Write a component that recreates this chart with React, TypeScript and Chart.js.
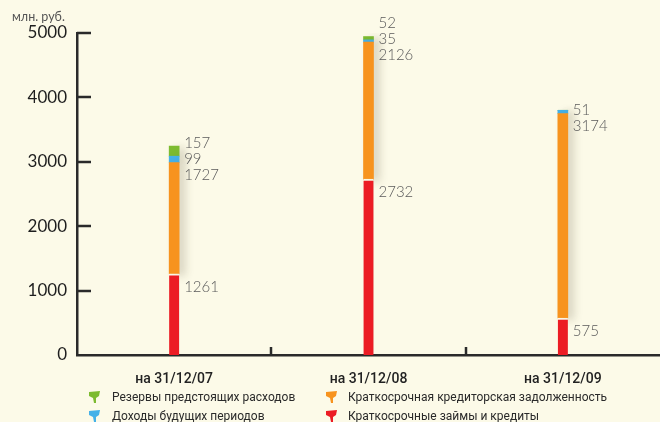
import React, { useEffect, useRef } from "react";
import { Chart, registerables } from "chart.js";

Chart.register(...registerables);

const categories = ["на 31/12/07", "на 31/12/08", "на 31/12/09"];
const loansCredits = [1261, 2732, 575];
const shortTermPayables = [1727, 2126, 3174];
const deferredIncome = [99, 35, 51];
const reservesExpenses = [157, 52, 0];
const yTicks = [0, 1000, 2000, 3000, 4000, 5000];
const yUnit = "млн. руб.";

const BG = "#FCFAE8";
const AXIS = "#2a2a2a";

const legendLayout = [
  { ds: 3, col: 0, row: 0 },
  { ds: 2, col: 0, row: 1 },
  { ds: 1, col: 1, row: 0 },
  { ds: 0, col: 1, row: 1 },
];

function drawMarker(ctx: CanvasRenderingContext2D, x: number, y: number, color: string) {
  ctx.save();
  ctx.fillStyle = color;
  ctx.beginPath();
  ctx.moveTo(x - 6, y - 5);
  ctx.lineTo(x + 5, y - 6);
  ctx.lineTo(x + 4, y - 1);
  ctx.lineTo(x + 1, y + 1);
  ctx.lineTo(x + 1, y + 6);
  ctx.lineTo(x - 1, y + 6);
  ctx.lineTo(x - 2, y + 1);
  ctx.lineTo(x - 6, y - 1);
  ctx.closePath();
  ctx.fill();
  ctx.restore();
}

const decorPlugin = {
  id: "decor",
  beforeDraw(chart: any) {
    const { ctx, width, height } = chart;
    ctx.save();
    ctx.fillStyle = BG;
    ctx.fillRect(0, 0, width, height);
    ctx.restore();
  },
  beforeDatasetsDraw(chart: any) {
    const ctx = chart.ctx;
    ctx.save();
    ctx.shadowColor = "rgba(60,50,20,0.18)";
    ctx.shadowBlur = 8;
    ctx.shadowOffsetX = 6;
    ctx.shadowOffsetY = 2;
  },
  afterDatasetsDraw(chart: any) {
    chart.ctx.restore();
  },
  afterDraw(chart: any) {
    const { ctx, chartArea, scales } = chart;
    const ys = scales.y;
    const xs = scales.x;
    ctx.save();
    // inner y ticks
    ctx.strokeStyle = AXIS;
    ctx.lineWidth = 2.5;
    for (const v of yTicks) {
      if (v === 0) continue;
      const y = Math.round(ys.getPixelForValue(v));
      ctx.beginPath();
      ctx.moveTo(chartArea.left, y);
      ctx.lineTo(chartArea.left + 14, y);
      ctx.stroke();
    }
    // x ticks at category boundaries
    for (let i = 0; i < categories.length - 1; i++) {
      const x = Math.round((xs.getPixelForValue(i) + xs.getPixelForValue(i + 1)) / 2);
      ctx.beginPath();
      ctx.moveTo(x, chartArea.bottom);
      ctx.lineTo(x, chartArea.bottom - 8);
      ctx.stroke();
    }
    // value labels
    ctx.fillStyle = "#5a5a5a";
    ctx.font = "300 15px Lato, 'Open Sans', sans-serif";
    ctx.textBaseline = "middle";
    ctx.textAlign = "left";
    for (let c = 0; c < categories.length; c++) {
      let lastY: number | null = null;
      for (let d = 0; d < chart.data.datasets.length; d++) {
        const v = chart.data.datasets[d].data[c] as number;
        if (!v) continue;
        const el = chart.getDatasetMeta(d).data[c] as any;
        const top = el.y;
        const h = el.base - el.y;
        let ly: number;
        if (h > 20 || lastY === null) ly = top + 13;
        else ly = lastY - 16;
        lastY = ly;
        ctx.fillText(String(v), el.x + 10, ly);
      }
    }
    // unit title
    ctx.fillStyle = "#555";
    ctx.font = "12.5px Lato, 'Open Sans', sans-serif";
    ctx.fillText(yUnit, 12, 17);
    // legend
    ctx.font = "12px Roboto, sans-serif";
    const colX = [95, 332];
    const textX = [112, 348];
    const rowY = [397, 416];
    for (const item of legendLayout) {
      const ds = chart.data.datasets[item.ds];
      drawMarker(ctx, colX[item.col], rowY[item.row], ds.backgroundColor as string);
      ctx.fillStyle = "#2a2a2a";
      ctx.fillText(ds.label, textX[item.col], rowY[item.row] + 1);
    }
    ctx.restore();
  },
};

export default function App() {
  const ref = useRef<HTMLCanvasElement | null>(null);
  useEffect(() => {
    document.body.style.margin = "0";
    document.body.style.background = BG;
    if (!ref.current) return;
    const chart = new Chart(ref.current, {
      type: "bar",
      data: {
        labels: categories,
        datasets: [
          {
            label: "Краткосрочные займы и кредиты",
            data: loansCredits,
            backgroundColor: "#EC1C24",
            borderColor: BG,
            borderWidth: { top: 2, bottom: 0, left: 0, right: 0 },
            borderSkipped: false,
          },
          {
            label: "Краткосрочная кредиторская задолженность",
            data: shortTermPayables,
            backgroundColor: "#F7931E",
          },
          {
            label: "Доходы будущих периодов",
            data: deferredIncome,
            backgroundColor: "#45B1E8",
          },
          {
            label: "Резервы предстоящих расходов",
            data: reservesExpenses,
            backgroundColor: "#7DBB30",
          },
        ],
      },
      options: {
        responsive: true,
        maintainAspectRatio: false,
        animation: false,
        layout: { padding: { top: 33, left: 0, right: 0, bottom: 0 } },
        datasets: { bar: { barThickness: 10 } },
        plugins: {
          legend: { display: false },
          tooltip: { enabled: false },
        },
        scales: {
          x: {
            stacked: true,
            grid: { display: false },
            border: { display: true, color: AXIS, width: 2.5 },
            ticks: {
              padding: 8,
              color: "#222",
              font: { family: "Roboto, sans-serif", size: 14, weight: "500" as any },
            },
            afterFit: (s: any) => {
              s.height = 67;
            },
          },
          y: {
            stacked: true,
            min: 0,
            max: 5000,
            grid: { display: false, drawTicks: false },
            border: { display: true, color: AXIS, width: 2.5 },
            ticks: {
              stepSize: 1000,
              padding: 10,
              color: "#1e1e1e",
              font: { family: "Lato, sans-serif", size: 17 },
              callback: (v: any) => String(v),
            },
            afterFit: (s: any) => {
              s.width = 77;
            },
          },
        },
      },
      plugins: [decorPlugin],
    });
    return () => chart.destroy();
  }, []);
  return (
    <div style={{ width: 660, height: 422, position: "relative" }}>
      <canvas ref={ref} />
    </div>
  );
}
